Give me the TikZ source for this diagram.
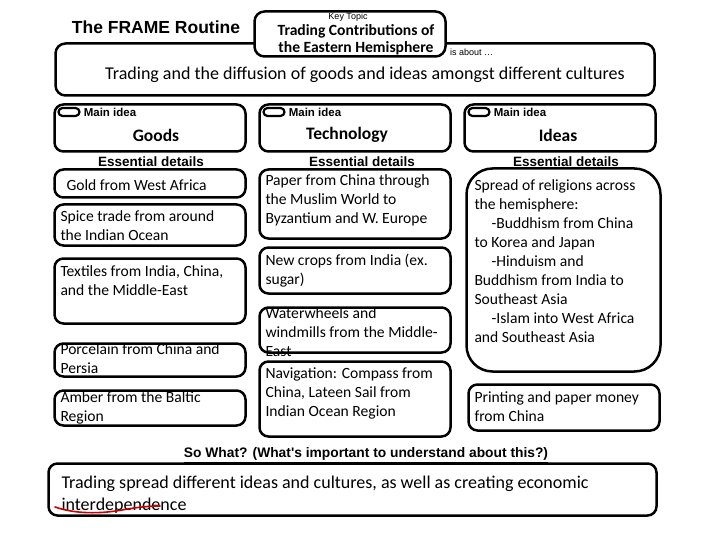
\documentclass[tikz,border=0pt]{standalone}
\usepackage{fontspec}
\setmainfont{Carlito}
\newfontfamily\arialfont{Liberation Sans}
\usetikzlibrary{positioning}
\tikzset{>=latex}
\newcommand{\bodyfont}{\fontsize{15.6}{19}\selectfont}
\tikzset{
  roundbox/.style={draw, line width=2.5pt, rounded corners=9pt, outer sep=0pt,
    inner sep=0pt, anchor=north west},
  % width, height, first baseline below the top line
  detail/.style n args={3}{roundbox, minimum width=#1pt, text width=#1pt-12pt,
    inner xsep=6pt, text height=#3pt, text depth=#2pt-#3pt, align=flush left,
    font=\bodyfont},
  oval/.style={draw, line width=2.2pt, rounded corners=4pt, fill=white,
    minimum width=21pt, minimum height=8pt, inner sep=0pt},
  mainidea/.style={font=\arialfont\bfseries\fontsize{11.5}{12}\selectfont, inner sep=0pt},
  mainlabel/.style={font=\bfseries\fontsize{17.5}{20}\selectfont, inner sep=0pt},
  essential/.style={font=\arialfont\bfseries\fontsize{13.5}{14}\selectfont, inner sep=0pt},
  tinysans/.style={font=\arialfont\fontsize{9}{10}\selectfont, inner sep=0pt}
}

\begin{document}
\begin{tikzpicture}[x=1pt, y=-1pt]
  \useasboundingbox (0,0) rectangle (720,540);

  % heading
  \node[font=\arialfont\bfseries\fontsize{17.5}{20}\selectfont, inner sep=0pt] (title) at (156,27) {The FRAME Routine};
  \node[roundbox, minimum width=599pt, minimum height=52pt, rounded corners=10pt] (about) at (55.5,43.5) {};
  \node[font=\fontsize{18}{20}\selectfont, inner sep=0pt] (abouttext) at (365,75) {Trading and the diffusion of goods and ideas amongst different cultures};
  \node[roundbox, fill=white, minimum width=191pt, minimum height=45pt, rounded corners=10pt] (topic) at (254.5,11.5) {};
  \node[tinysans] (keytopic) at (348,17) {Key Topic};
  \node[font=\bfseries\fontsize{15.6}{17}\selectfont, align=center, inner sep=0pt] (topictext) at (356,41) {Trading Contributions of\\\underline{the Eastern Hemisphere}};
  \node[tinysans, anchor=west] (isabout) at (450,52) {is about \dots};

  % main ideas
  \foreach \x/\name/\lab/\lx/\ex in {54.5/goods/Goods/156/151, 259.5/tech/Technology/347/362, 464.5/ideas/Ideas/558/566}{
    \node[roundbox, minimum width=191pt, minimum height=47pt] (\name) at (\x,104.5) {};
    \node[oval] (\name-o) at (\x+14.5,112) {};
    \node[mainidea, right=3pt of \name-o] (\name-m) {Main idea};
    \node[mainlabel] (\name-l) at (\lx,135) {\lab};
    \node[essential] (\name-e) at (\ex,162) {Essential details};
  }

  % essential details
  \node[detail={191}{28}{21.5}] (gold) at (54.5,169.5) {\hspace*{6pt}Gold from West Africa};
  \node[detail={191}{41}{17}] (spice) at (54.5,204.5) {Spice trade from around\\the Indian Ocean};
  \node[detail={191}{65}{17.5}] (textiles) at (54.5,258.5) {Textiles from India, China,\\and the Middle-East};
  \node[detail={191}{33}{10.5}] (porcelain) at (54.5,343.5) {Porcelain from China and\\Persia};
  \node[detail={191}{35}{11.5}] (amber) at (54.5,390.5) {Amber from the Baltic\\Region};

  \node[detail={191}{69}{16.5}] (paper) at (259.5,169.5) {Paper from China through\\the Muslim World to\\Byzantium and W. Europe};
  \node[detail={191}{46}{17.5}] (crops) at (259.5,247.5) {New crops from India (ex.\\sugar)};
  \node[detail={191}{45}{10.5}] (water) at (259.5,307.5) {Waterwheels and\\windmills from the Middle-\\East};
  \node[detail={191}{75}{16.5}] (navigation) at (259.5,361.5) {Navigation: Compass from\\China, Lateen Sail from\\Indian Ocean Region};

  \node[detail={190}{203}{22.5}, rounded corners=26pt, inner xsep=8pt] (religion) at (466.5,168.5) {Spread of religions across\\the hemisphere:\\\hspace*{1.1em}-Buddhism from China\\to Korea and Japan\\\hspace*{1.1em}-Hinduism and\\Buddhism from India to\\Southeast Asia\\\hspace*{1.1em}-Islam into West Africa\\and Southeast Asia};
  \node[detail={191}{46}{17.5}] (printing) at (468.5,384.5) {Printing and paper money\\from China};

  % so what
  \node[essential, font=\arialfont\bfseries\fontsize{13.8}{14}\selectfont] (sowhat) at (366,455) {\underline{So What? (What's important to understand about this?)}};
  \node[roundbox, minimum width=608pt, text width=582pt, inner xsep=13pt, text height=25pt, text depth=27pt, align=flush left, font=\fontsize{18}{22}\selectfont] (summary) at (48.5,463.5) {Trading spread different ideas and cultures, as well as creating economic\\interdependence};
  \draw[red!80!black, line width=1.6pt, line cap=round] (55,507) .. controls (75,514) and (100,514) .. (122,510) .. controls (138,507) and (150,506) .. (160,506);
\end{tikzpicture}
\end{document}
